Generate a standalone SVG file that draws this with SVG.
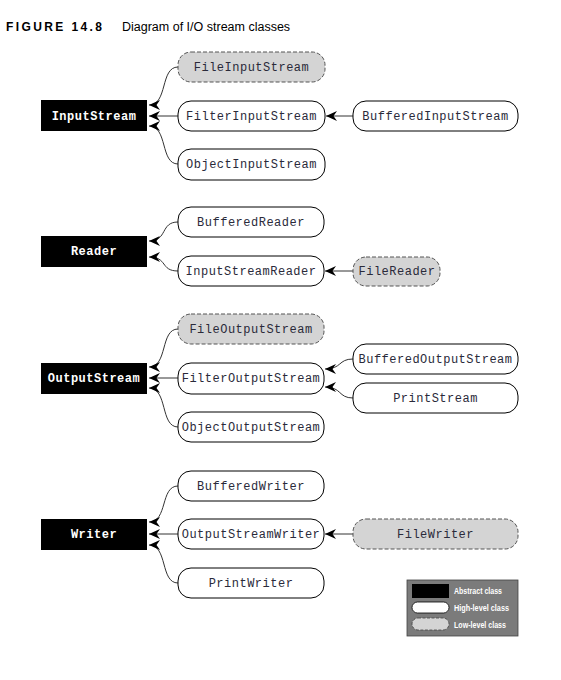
<svg xmlns="http://www.w3.org/2000/svg" width="561" height="680" viewBox="0 0 561 680">
<defs>
<marker id="arr" markerUnits="userSpaceOnUse" markerWidth="12" markerHeight="10" refX="11" refY="5" orient="auto">
<path d="M0,0 L11,5 L0,10 L3.5,5 z" fill="#000"/>
</marker>
</defs>
<style>
.abs{fill:#000;}
.hi{fill:#fff;stroke:#000;stroke-width:1;}
.lo{fill:#d4d4d4;stroke:#555;stroke-width:1;stroke-dasharray:4 2;}
.t{font-family:"Liberation Mono","Courier New",monospace;font-size:12px;letter-spacing:0.5px;fill:#2a2a3a;text-anchor:middle;}
.ta{font-family:"Liberation Mono","Courier New",monospace;font-size:12px;letter-spacing:0.5px;font-weight:bold;fill:#fff;text-anchor:middle;}
.c{fill:none;stroke:#333;stroke-width:1;marker-end:url(#arr);}
.lg{font-family:"Liberation Sans",Arial,sans-serif;font-size:9.5px;font-weight:bold;fill:#fff;}
</style>
<rect width="561" height="680" fill="#fff"/>
<g id="title">
<text x="6" y="31" font-family="Liberation Sans,Arial,sans-serif" font-size="12" font-weight="bold" letter-spacing="2.4" fill="#000">FIGURE 14.8</text>
<text x="122" y="31" font-family="Liberation Sans,Arial,sans-serif" font-size="12.5" fill="#000">Diagram of I/O stream classes</text>
</g>
<g id="connectors">
<path class="c" d="M178,67 C160,67 168,105 149,105"/>
<path class="c" d="M178,116 L149,116"/>
<path class="c" d="M178,164 C160,164 168,126 149,126"/>
<path class="c" d="M353,116 L326,116"/>
<path class="c" d="M178,222 C160,222 168,241 149,241"/>
<path class="c" d="M178,271 C160,271 168,257 149,257"/>
<path class="c" d="M353,271 L325,271"/>
<path class="c" d="M178,329 C160,329 168,367 149,367"/>
<path class="c" d="M178,378 L149,378"/>
<path class="c" d="M178,427 C160,427 168,388 149,388"/>
<path class="c" d="M353,359 C338,359 342,369 325,369"/>
<path class="c" d="M353,398 C338,398 342,387 325,387"/>
<path class="c" d="M178,486 C160,486 168,522 149,522"/>
<path class="c" d="M178,534 L149,534"/>
<path class="c" d="M178,583 C160,583 168,545 149,545"/>
<path class="c" d="M353,534 L325,534"/>
</g>
<g id="InputStream"><rect class="abs" x="41" y="100" width="106" height="31"/><text class="ta" x="94" y="120">InputStream</text></g>
<g id="FileInputStream"><rect class="lo" x="178" y="52" width="147" height="30" rx="13"/><text class="t" x="251.5" y="71">FileInputStream</text></g>
<g id="FilterInputStream"><rect class="hi" x="178" y="101" width="147" height="30" rx="13"/><text class="t" x="251.5" y="120">FilterInputStream</text></g>
<g id="ObjectInputStream"><rect class="hi" x="178" y="149" width="147" height="31" rx="13"/><text class="t" x="251.5" y="168">ObjectInputStream</text></g>
<g id="BufferedInputStream"><rect class="hi" x="353" y="101" width="165" height="30" rx="13"/><text class="t" x="435.5" y="120">BufferedInputStream</text></g>

<g id="Reader"><rect class="abs" x="41" y="236" width="106" height="31"/><text class="ta" x="94" y="255">Reader</text></g>
<g id="BufferedReader"><rect class="hi" x="178" y="207" width="146" height="30" rx="13"/><text class="t" x="251" y="226">BufferedReader</text></g>
<g id="InputStreamReader"><rect class="hi" x="178" y="256" width="146" height="30" rx="13"/><text class="t" x="251" y="275">InputStreamReader</text></g>
<g id="FileReader"><rect class="lo" x="353" y="257" width="87" height="29" rx="13"/><text class="t" x="397" y="275">FileReader</text></g>

<g id="OutputStream"><rect class="abs" x="41" y="363" width="106" height="31"/><text class="ta" x="94" y="382">OutputStream</text></g>
<g id="FileOutputStream"><rect class="lo" x="178" y="314" width="146" height="30" rx="13"/><text class="t" x="251" y="333">FileOutputStream</text></g>
<g id="FilterOutputStream"><rect class="hi" x="178" y="363" width="146" height="31" rx="13"/><text class="t" x="251" y="382">FilterOutputStream</text></g>
<g id="ObjectOutputStream"><rect class="hi" x="178" y="412" width="146" height="30" rx="13"/><text class="t" x="251" y="431">ObjectOutputStream</text></g>
<g id="BufferedOutputStream"><rect class="hi" x="353" y="344" width="165" height="30" rx="13"/><text class="t" x="435.5" y="363">BufferedOutputStream</text></g>
<g id="PrintStream"><rect class="hi" x="353" y="383" width="165" height="30" rx="13"/><text class="t" x="435.5" y="402">PrintStream</text></g>

<g id="Writer"><rect class="abs" x="41" y="519" width="106" height="31"/><text class="ta" x="94" y="538">Writer</text></g>
<g id="BufferedWriter"><rect class="hi" x="178" y="471" width="146" height="30" rx="13"/><text class="t" x="251" y="490">BufferedWriter</text></g>
<g id="OutputStreamWriter"><rect class="hi" x="178" y="519" width="146" height="30" rx="13"/><text class="t" x="251" y="538">OutputStreamWriter</text></g>
<g id="PrintWriter"><rect class="hi" x="178" y="568" width="146" height="30" rx="13"/><text class="t" x="251" y="587">PrintWriter</text></g>
<g id="FileWriter"><rect class="lo" x="353" y="519" width="165" height="30" rx="13"/><text class="t" x="435.5" y="538">FileWriter</text></g>

<g id="legend">
<rect x="407" y="580" width="111" height="56" fill="#7b7b7b" stroke="#444" stroke-width="0.8"/>
<rect x="412" y="584" width="37" height="14" fill="#000"/>
<rect x="412" y="602" width="37" height="11" rx="5.5" fill="#fff" stroke="#000" stroke-width="0.8"/>
<rect x="412" y="618" width="37" height="12" rx="6" fill="#d4d4d4" stroke="#444" stroke-width="0.8" stroke-dasharray="3 1.5"/>
<text class="lg" x="454" y="594" textLength="48" lengthAdjust="spacingAndGlyphs">Abstract class</text>
<text class="lg" x="454" y="611" textLength="55" lengthAdjust="spacingAndGlyphs">High-level class</text>
<text class="lg" x="454" y="628" textLength="52" lengthAdjust="spacingAndGlyphs">Low-level class</text>
</g>
</svg>
